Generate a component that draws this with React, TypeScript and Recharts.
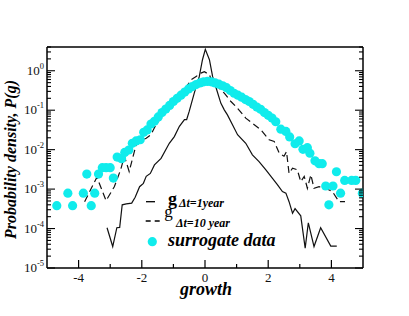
import React from "react";
import {
  ComposedChart,
  Line,
  Scatter,
  XAxis,
  YAxis,
  Legend,
} from "recharts";

// g_{Δt=1year}
const growth1 = [
  -3.1, -2.92, -2.79, -2.7, -2.62, -2.49, -2.32, -2.21, -2.07, -1.95, -1.86, -1.73, -1.6,
  -1.39, -1.13, -0.97, -0.81, -0.65, -0.58, -0.5, -0.34, -0.18, -0.08, 0.01, 0.14, 0.24,
  0.37, 0.5, 0.61, 0.71, 0.87, 1.03, 1.29, 1.5, 1.71, 1.92, 2.13, 2.29, 2.45, 2.56, 2.66,
  2.77, 2.85, 3.03, 3.17, 3.27, 3.45, 3.66, 3.98, 4.17,
];
const density1 = [
  1.05e-4, 3.5e-5, 1.05e-4, 1.07e-4, 4.0e-4, 4.2e-4, 4.4e-4, 6.2e-4, 1.15e-3, 1.4e-3, 2.1e-3,
  2.5e-3, 4.1e-3, 6.0e-3, 0.0145, 0.0214, 0.039, 0.058, 0.058, 0.093, 0.27, 0.72, 1.9, 3.5,
  1.9, 0.72, 0.33, 0.151, 0.102, 0.076, 0.043, 0.024, 0.0145, 7.4e-3, 5.0e-3, 3.1e-3, 1.9e-3,
  1.3e-3, 8.7e-4, 7.9e-4, 4.8e-4, 2.45e-4, 3.2e-4, 2.1e-4, 3.2e-5, 1.4e-4, 3.5e-5, 1.05e-4,
  3.6e-5, 3.6e-5,
];

// g_{Δt=10 year}
const growth10 = [
  -3.81, -3.42, -3.13, -2.87, -2.67, -2.55, -2.4, -2.18, -2.02, -1.86, -1.71, -1.55, -1.23,
  -0.92, -0.65, -0.44, -0.28, -0.13, -0.02, 0.14, 0.24, 0.4, 0.61, 0.82, 1.03, 1.29, 1.56,
  1.77, 2.03, 2.19, 2.35, 2.5, 2.58, 2.66, 2.77, 2.92, 3.03, 3.14, 3.24, 3.35, 3.45, 3.61,
  3.82, 4.03, 4.24, 4.43,
];
const density10 = [
  4.8e-4, 2.0e-3, 5.1e-4, 1.15e-3, 3.1e-3, 6.8e-3, 2.8e-3, 0.0132, 0.017, 0.0195, 0.024,
  0.043, 0.093, 0.182, 0.33, 0.59, 0.72, 0.87, 0.95, 0.79, 0.49, 0.4, 0.27, 0.166, 0.112,
  0.063, 0.043, 0.0316, 0.0178, 0.0162, 8.1e-3, 6.8e-3, 8.9e-3, 2.5e-3, 3.4e-3, 3.1e-3,
  1.55e-3, 2.1e-3, 1.05e-3, 2.3e-3, 1.05e-3, 1.15e-3, 1.05e-3, 8.7e-4, 4.8e-4, 4.8e-4,
];

// surrogate data
const growthSur = [
  -4.69, -4.34, -4.19, -3.85, -3.74, -3.6, -3.49, -3.37, -3.25, -3.13, -3.0, -2.9, -2.78,
  -2.64, -2.54, -2.41, -2.3, -2.18, -2.05, -1.94, -1.83, -1.71, -1.6, -1.48, -1.36, -1.24,
  -1.12, -1.0, -0.88, -0.76, -0.64, -0.52, -0.4, -0.28, -0.16, -0.04, 0.08, 0.2, 0.32, 0.44,
  0.56, 0.68, 0.8, 0.92, 1.04, 1.16, 1.28, 1.4, 1.52, 1.64, 1.76, 1.88, 2.0, 2.12, 2.24,
  2.4, 2.56, 2.68, 2.85, 2.98, 3.1, 3.24, 3.32, 3.48, 3.61, 3.71, 3.82, 3.92, 4.05, 4.16,
  4.29, 4.42, 4.64, 4.77, 4.98,
];
const densitySur = [
  3.8e-4, 7.9e-4, 3.8e-4, 7.9e-4, 2.4e-3, 3.8e-4, 7.9e-4, 2.4e-3, 3.5e-3, 3.5e-3, 3.5e-3,
  1.9e-3, 6.5e-3, 5.9e-3, 8.5e-3, 9.8e-3, 0.0145, 0.0166, 0.0178, 0.0275, 0.0316, 0.0447,
  0.0525, 0.0676, 0.087, 0.107, 0.132, 0.166, 0.2, 0.24, 0.288, 0.347, 0.398, 0.447, 0.49,
  0.525, 0.537, 0.525, 0.49, 0.457, 0.417, 0.372, 0.316, 0.269, 0.24, 0.214, 0.186, 0.166,
  0.141, 0.12, 0.105, 0.087, 0.074, 0.063, 0.051, 0.033, 0.029, 0.021, 0.0141, 0.0166,
  0.0102, 0.0112, 0.0081, 0.0052, 0.0044, 0.0044, 1.2e-3, 4.0e-4, 1.2e-3, 2.75e-3, 7.9e-4,
  1.66e-3, 1.66e-3, 1.66e-3, 7.9e-4,
];

const xTicks = [-4, -3, -2, -1, 0, 1, 2, 3, 4];
const decades = [1e-5, 1e-4, 1e-3, 1e-2, 1e-1, 1];

const zip = (xs: number[], ys: number[]) => xs.map((g, i) => ({ g, p: ys[i] }));
const series1 = zip(growth1, density1);
const series10 = zip(growth10, density10);
const seriesSur = zip(growthSur, densitySur);

const yTicks: number[] = [];
decades.forEach((d) => {
  for (let m = 1; m <= 9; m++) {
    if (m * d <= 4) yTicks.push(m * d);
  }
});

const FONT = "'Liberation Serif', 'Times New Roman', serif";
const CYAN = "#10ecec";

const isDecade = (v: number) => {
  const l = Math.log10(v);
  return Math.abs(l - Math.round(l)) < 1e-6;
};

const BottomTick = ({ x, y, payload }: any) => {
  const major = payload.value % 2 === 0;
  return (
    <g>
      <line x1={x} x2={x} y1={y} y2={y - (major ? 8 : 4)} stroke="#000" strokeWidth={1.2} />
      {major && (
        <text x={x} y={y + 14} textAnchor="middle" fontFamily={FONT} fontSize={13} fill="#111">
          {payload.value}
        </text>
      )}
    </g>
  );
};

const TopTick = ({ x, y }: any) => (
  <line x1={x} x2={x} y1={y} y2={y + 7} stroke="#000" strokeWidth={1.2} />
);

const LeftTick = ({ x, y, payload }: any) => {
  const major = isDecade(payload.value);
  return (
    <g>
      <line x1={x} x2={x + (major ? 8 : 4)} y1={y} y2={y} stroke="#000" strokeWidth={1.1} />
      {major && (
        <text x={x - 3} y={y + 4} textAnchor="end" fontFamily={FONT} fill="#111">
          <tspan fontSize={13}>10</tspan>
          <tspan fontSize={8.5} dy={-6}>
            {Math.round(Math.log10(payload.value))}
          </tspan>
        </text>
      )}
    </g>
  );
};

const RightTick = ({ x, y, payload }: any) => {
  const major = isDecade(payload.value);
  return <line x1={x} x2={x - (major ? 8 : 4)} y1={y} y2={y} stroke="#000" strokeWidth={1.1} />;
};

const XTitle = ({ viewBox }: any) => (
  <text
    x={viewBox.x + viewBox.width / 2 + 1}
    y={viewBox.y + 27}
    textAnchor="middle"
    fontFamily={FONT}
    fontSize={18}
    fontWeight="bold"
    fontStyle="italic"
  >
    growth
  </text>
);

const YTitle = ({ viewBox }: any) => {
  const cx = 16;
  const cy = viewBox.y + viewBox.height / 2 + 2;
  return (
    <text
      x={cx}
      y={cy}
      transform={`rotate(-90, ${cx}, ${cy})`}
      textAnchor="middle"
      fontFamily={FONT}
      fontSize={16}
      fontWeight="bold"
      fontStyle="italic"
    >
      Probability density, P(g)
    </text>
  );
};

const LegendBox = () => (
  <svg width={150} height={62} style={{ overflow: "visible" }}>
    <line x1={6} x2={15} y1={11.7} y2={11.7} stroke="#000" strokeWidth={1.3} />
    <text x={28} y={15.3} fontFamily={FONT} fontSize={18} fontWeight="bold">
      g
    </text>
    <text x={39} y={16.5} fontFamily={FONT} fontSize={12} fontWeight="bold" fontStyle="italic">
      Δt=1year
    </text>
    <line x1={5.7} x2={20} y1={31} y2={31} stroke="#000" strokeWidth={1.3} strokeDasharray="5 4" />
    <text x={24.3} y={26.5} fontFamily={FONT} fontSize={17}>
      g
    </text>
    <text x={36} y={37} fontFamily={FONT} fontSize={12} fontWeight="bold" fontStyle="italic">
      Δt=10 year
    </text>
    <circle cx={12.3} cy={51.7} r={4.6} fill={CYAN} />
    <text x={28} y={56} fontFamily={FONT} fontSize={18} fontWeight="bold" fontStyle="italic">
      surrogate data
    </text>
  </svg>
);

export default function App() {
  return (
    <div style={{ position: "absolute", left: 0, top: 0, background: "#fff" }}>
      <ComposedChart width={409} height={316} margin={{ top: 0, right: 0, bottom: 0, left: 0 }}>
        <XAxis
          xAxisId="b"
          dataKey="g"
          type="number"
          domain={[-5, 5]}
          allowDataOverflow
          ticks={xTicks}
          interval={0}
          height={48}
          tickLine={false}
          tickSize={0}
          tickMargin={0}
          axisLine={{ stroke: "#000", strokeWidth: 1.5 }}
          tick={<BottomTick />}
          label={<XTitle />}
        />
        <XAxis
          xAxisId="t"
          orientation="top"
          type="number"
          domain={[-5, 5]}
          allowDataOverflow
          ticks={xTicks}
          interval={0}
          height={47}
          tickLine={false}
          tickSize={0}
          tickMargin={0}
          axisLine={{ stroke: "#000", strokeWidth: 1.5 }}
          tick={<TopTick />}
        />
        <YAxis
          yAxisId="l"
          type="number"
          scale="log"
          domain={[1e-5, 4]}
          allowDataOverflow
          ticks={yTicks}
          interval={0}
          width={47}
          tickLine={false}
          tickSize={0}
          tickMargin={0}
          axisLine={{ stroke: "#000", strokeWidth: 1.5 }}
          tick={<LeftTick />}
          label={<YTitle />}
        />
        <YAxis
          yAxisId="r"
          orientation="right"
          type="number"
          scale="log"
          domain={[1e-5, 4]}
          allowDataOverflow
          ticks={yTicks}
          interval={0}
          width={46}
          tickLine={false}
          tickSize={0}
          tickMargin={0}
          axisLine={{ stroke: "#000", strokeWidth: 1.5 }}
          tick={<RightTick />}
        />
        <Scatter
          xAxisId="b"
          yAxisId="l"
          data={seriesSur}
          dataKey="p"
          name="surrogate data"
          fill={CYAN}
          isAnimationActive={false}
          shape={(p: any) => <circle cx={p.cx} cy={p.cy} r={4.6} fill={CYAN} />}
        />
        <Line
          xAxisId="b"
          yAxisId="l"
          data={series10}
          dataKey="p"
          type="linear"
          stroke="#111"
          strokeWidth={1.2}
          strokeDasharray="7 4"
          dot={false}
          isAnimationActive={false}
        />
        <Line
          xAxisId="b"
          yAxisId="l"
          data={series1}
          dataKey="p"
          type="linear"
          stroke="#111"
          strokeWidth={1.2}
          dot={false}
          isAnimationActive={false}
        />
        <Legend
          layout="horizontal"
          verticalAlign="middle"
          align="center"
          content={<LegendBox />}
          wrapperStyle={{ left: 140, top: 190, width: 150, height: 62 }}
        />
      </ComposedChart>
    </div>
  );
}
